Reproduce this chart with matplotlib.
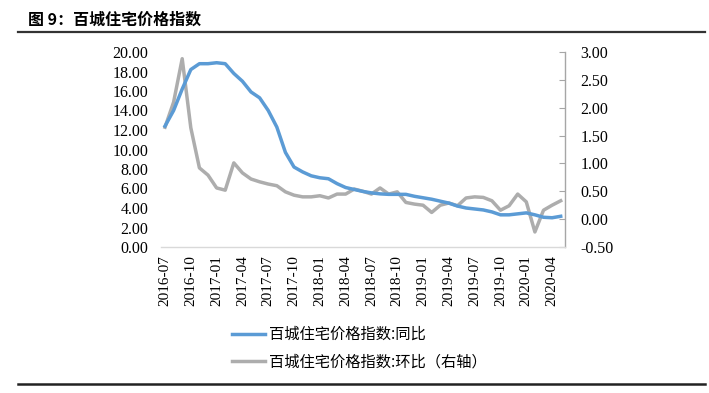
import pandas as pd
import matplotlib
matplotlib.use('Agg')
from matplotlib import pyplot as plt
from matplotlib.lines import Line2D

# monthly data, 2016-07 .. 2020-05
months = pd.date_range('2016-07-01', '2020-05-01', freq='MS').strftime('%Y-%m').tolist()

yoy = [12.4, 14.0, 16.2, 18.2, 18.8, 18.8, 18.9, 18.8, 17.8, 17.0,
       15.9, 15.3, 14.0, 12.3, 9.7, 8.2, 7.7, 7.3, 7.1, 7.0,
       6.5, 6.1, 5.9, 5.7, 5.55, 5.45, 5.4, 5.4, 5.4, 5.2,
       5.05, 4.9, 4.7, 4.5, 4.2, 4.0, 3.9, 3.8, 3.6, 3.3,
       3.3, 3.4, 3.5, 3.3, 3.05, 3.0, 3.15]

mom = [1.65, 2.10, 2.88, 1.64, 0.92, 0.79, 0.56, 0.52, 1.01, 0.83,
       0.72, 0.67, 0.63, 0.60, 0.49, 0.43, 0.40, 0.40, 0.42, 0.38,
       0.45, 0.45, 0.54, 0.50, 0.45, 0.56, 0.45, 0.49, 0.30, 0.27,
       0.25, 0.12, 0.25, 0.29, 0.24, 0.38, 0.40, 0.39, 0.33, 0.16,
       0.24, 0.45, 0.31, -0.23, 0.16, 0.25, 0.33]

title = '图 9：百城住宅价格指数'
label_yoy = '百城住宅价格指数:同比'
label_mom = '百城住宅价格指数:环比（右轴）'

blue = '#5B9BD5'
grey = '#ADADAD'
serif = 'Liberation Serif'
cjk = ['Noto Sans CJK SC', 'DejaVu Sans']

fig = plt.figure(figsize=(7.09, 3.93), dpi=100)
ax = fig.add_axes([160.7 / 709, 1 - 247 / 393, (565 - 160.7) / 709, 195 / 393])
ax2 = ax.twinx()

x = list(range(len(months)))
ax.plot(x, yoy, color=blue, lw=2.5, solid_joinstyle='round', zorder=3)
ax2.plot(x, mom, color=grey, lw=2.5, solid_joinstyle='round', zorder=2)
ax.set_zorder(ax2.get_zorder() + 1)
ax.patch.set_visible(False)

ax.set_xlim(-0.5, len(months) - 0.5)
ax.set_ylim(0, 20)
ax.set_yticks(range(0, 21, 2))
ax.set_yticklabels(['%.2f' % v for v in range(0, 21, 2)], fontfamily=serif, fontsize=11.5)
ax2.set_ylim(-0.5, 3.0)
ticks2 = [-0.5, 0, 0.5, 1.0, 1.5, 2.0, 2.5, 3.0]
ax2.set_yticks(ticks2)
ax2.set_yticklabels(['%.2f' % v for v in ticks2], fontfamily=serif, fontsize=11.5)

ax.set_xticks(x[::3])
ax.set_xticklabels(months[::3], rotation=90, fontfamily=serif, fontsize=11)

for a in (ax, ax2):
    for s in ('top', 'left', 'right', 'bottom'):
        a.spines[s].set_visible(False)
ax2.spines['right'].set_visible(True)
ax2.spines['right'].set_color('#A6A6A6')
ax2.spines['right'].set_linewidth(1.0)
ax.spines['bottom'].set_visible(True)
ax.spines['bottom'].set_color('#D9D9D9')
ax.spines['bottom'].set_linewidth(1.0)

ax.tick_params(axis='y', length=0, pad=9)
ax.tick_params(axis='x', length=0, pad=6)
ax2.tick_params(axis='y', direction='in', length=4, color='#A6A6A6', pad=11)

handles = [Line2D([], [], color=blue, lw=2.5), Line2D([], [], color=grey, lw=2.5)]
fig.legend(handles, [label_yoy, label_mom], loc='upper left',
           bbox_to_anchor=(232 / 709, 1 - 326 / 393), frameon=False,
           prop={'family': cjk, 'size': 11}, handlelength=2.15,
           handletextpad=0.25, labelspacing=0.7, borderpad=0, borderaxespad=0)

fig.text(28 / 709, 1 - 20 / 393, title, fontfamily=cjk, fontweight='bold',
         fontsize=11.5, va='center', ha='left')
fig.add_artist(Line2D([18 / 709, 705 / 709], [1 - 32 / 393] * 2, color='#333333', lw=1.6))
fig.add_artist(Line2D([18 / 709, 705 / 709], [1 - 384 / 393] * 2, color='#222222', lw=1.8))

fig.savefig('out.png', dpi=100)
